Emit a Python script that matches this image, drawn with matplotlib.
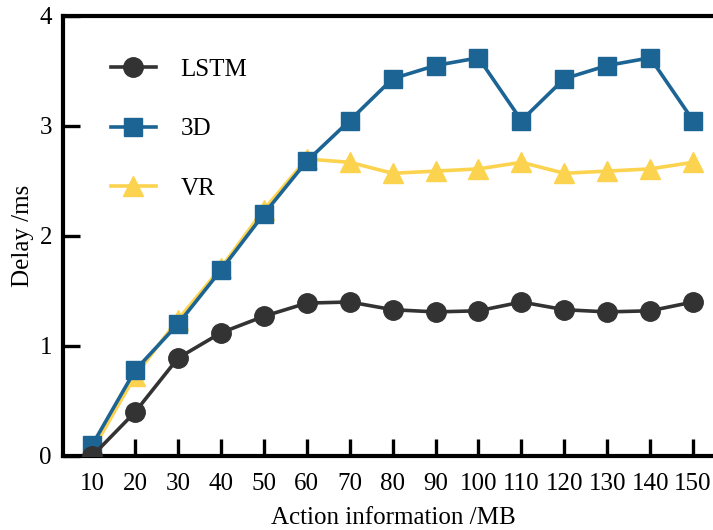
import matplotlib
matplotlib.use("Agg")
import matplotlib.pyplot as plt

x = [10, 20, 30, 40, 50, 60, 70, 80, 90, 100, 110, 120, 130, 140, 150]
lstm = [0.00, 0.40, 0.89, 1.12, 1.27, 1.39, 1.40, 1.33, 1.31, 1.32, 1.40, 1.33, 1.31, 1.32, 1.40]
d3 = [0.10, 0.78, 1.20, 1.69, 2.20, 2.68, 3.05, 3.43, 3.55, 3.62, 3.05, 3.43, 3.55, 3.62, 3.05]
vr = [0.05, 0.73, 1.24, 1.71, 2.24, 2.70, 2.67, 2.57, 2.59, 2.61, 2.67, 2.57, 2.59, 2.61, 2.67]
labels = ["LSTM", "3D", "VR"]
xticks = x
yticks = [0, 1, 2, 3, 4]

plt.rcParams['font.family'] = ['Liberation Serif', 'DejaVu Serif']

fig = plt.figure(figsize=(7.13, 5.30), dpi=100)
ax = fig.add_axes([63/713, 74/530, 661/713, 440/530])

ax.plot(x, lstm, color="#333333", marker="o", markersize=14, linewidth=2.6, label=labels[0], zorder=3)
ax.plot(x, d3, color="#1c6494", marker="s", markersize=13.5, linewidth=2.6, label=labels[1], zorder=2)
ax.plot(x, vr, color="#fcd34f", marker="^", markersize=14.5, linewidth=2.6, label=labels[2], zorder=1)

ax.set_xlim(3.2, 157.2)
ax.set_ylim(0, 4)
ax.set_xticks(xticks)
ax.set_yticks(yticks)
ax.tick_params(direction="in", length=12, width=2.4, labelsize=18)
ax.tick_params(axis="x", pad=12)
ax.tick_params(axis="y", pad=8)
for s in ["left", "bottom", "top", "right"]:
    ax.spines[s].set_linewidth(3)

ax.set_xlabel("Action information /MB", fontsize=18, labelpad=9)
ax.set_ylabel("Delay /ms", fontsize=18, labelpad=4)

leg = ax.legend(loc="upper left", bbox_to_anchor=(0.038, 0.955), frameon=False, fontsize=18,
                labelspacing=1.48, handlelength=1.8, handletextpad=1.0)

fig.savefig("out.png", dpi=100)
